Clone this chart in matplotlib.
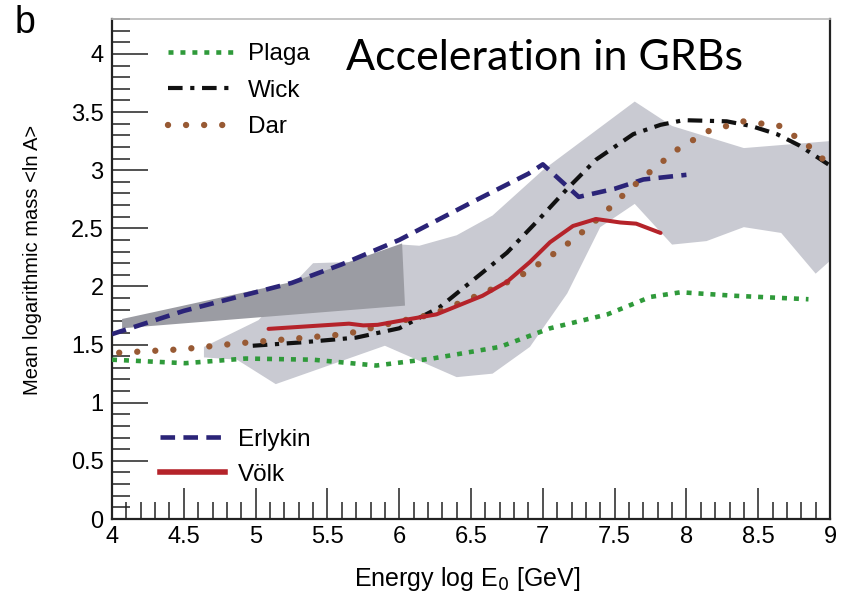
import matplotlib
matplotlib.use("Agg")
import matplotlib.pyplot as plt
from matplotlib.ticker import MultipleLocator, FixedFormatter, FixedLocator
from matplotlib.lines import Line2D

plt.rcParams["font.family"] = ["Liberation Sans", "DejaVu Sans"]
plt.rcParams["lines.scale_dashes"] = False

# ---- data: log10(E/GeV) vs <ln A> ----
band_upper_x = [4.64, 5.02, 5.40, 5.65, 6.02, 6.14, 6.40, 6.65, 7.00, 7.64, 7.90, 8.40, 9.00]
band_upper_y = [1.48, 1.71, 2.20, 2.21, 2.36, 2.35, 2.44, 2.61, 3.00, 3.59, 3.38, 3.19, 3.25]
band_lower_x = [4.64, 4.87, 5.14, 5.90, 6.40, 6.65, 6.91, 7.17, 7.40, 7.64, 7.90, 8.14, 8.40, 8.66, 8.90, 9.00]
band_lower_y = [1.39, 1.37, 1.16, 1.49, 1.22, 1.25, 1.48, 1.94, 2.51, 2.71, 2.36, 2.39, 2.51, 2.46, 2.11, 2.22]

dark_x = [4.07, 5.26, 6.02, 6.04, 4.07]
dark_y = [1.72, 2.04, 2.37, 1.835, 1.64]

erlykin_x = [4.0, 4.5, 5.0, 5.25, 5.6, 6.0, 6.5, 6.9, 7.0, 7.25, 7.5, 7.7, 8.0]
erlykin_y = [1.59, 1.79, 1.95, 2.03, 2.19, 2.40, 2.72, 2.97, 3.05, 2.77, 2.84, 2.92, 2.96]

wick_x = [4.98, 5.33, 5.70, 6.00, 6.28, 6.51, 6.75, 6.96, 7.17, 7.37, 7.63, 7.82, 7.98, 8.28, 8.45, 8.63, 8.79, 9.00]
wick_y = [1.49, 1.52, 1.56, 1.64, 1.82, 2.05, 2.29, 2.56, 2.84, 3.09, 3.31, 3.39, 3.43, 3.42, 3.38, 3.31, 3.21, 3.04]

dar_x = [4.05, 4.49, 4.87, 5.26, 5.63, 6.00, 6.23, 6.58, 6.83, 7.03, 7.22, 7.41, 7.58, 7.76, 7.95, 8.16, 8.40, 8.65, 8.84, 9.00]
dar_y = [1.43, 1.46, 1.51, 1.55, 1.59, 1.70, 1.76, 1.94, 2.08, 2.24, 2.41, 2.61, 2.81, 3.00, 3.19, 3.34, 3.42, 3.38, 3.22, 3.04]

plaga_x = [4.0, 4.51, 4.93, 5.40, 5.84, 6.23, 6.70, 7.05, 7.45, 7.75, 7.96, 8.33, 8.85]
plaga_y = [1.37, 1.34, 1.38, 1.37, 1.32, 1.38, 1.48, 1.64, 1.76, 1.91, 1.95, 1.92, 1.89]

volk_x = [5.09, 5.40, 5.65, 5.75, 5.85, 6.03, 6.26, 6.58, 6.75, 6.91, 7.05, 7.21, 7.37, 7.54, 7.65, 7.82]
volk_y = [1.635, 1.66, 1.68, 1.665, 1.67, 1.71, 1.76, 1.92, 2.04, 2.21, 2.38, 2.52, 2.58, 2.55, 2.54, 2.46]

x_ticks = [4, 4.5, 5, 5.5, 6, 6.5, 7, 7.5, 8, 8.5, 9]
x_tick_labels = ["4", "4.5", "5", "5.5", "6", "6.5", "7", "7.5", "8", "8.5", "9"]
y_ticks = [0, 0.5, 1, 1.5, 2, 2.5, 3, 3.5, 4]
y_tick_labels = ["0", "0.5", "1", "1.5", "2", "2.5", "3", "3.5", "4"]

# ---- styles ----
C_BAND = "#c9cad2"
C_DARK = "#9b9ca3"
C_ERL = "#2b2478"
C_WICK = "#111111"
C_DAR = "#985a34"
C_PLAGA = "#2f9a3a"
C_VOLK = "#b5232a"

fig = plt.figure(figsize=(8.5, 5.92), dpi=100)
ax = fig.add_axes([0.1318, 0.1233, 0.8447, 0.8446])

ax.fill(band_upper_x + band_lower_x[::-1], band_upper_y + band_lower_y[::-1],
        color=C_BAND, lw=0, zorder=1)
ax.fill(dark_x, dark_y, color=C_DARK, lw=0, zorder=2)

plaga_kw = dict(color=C_PLAGA, lw=3.3, linestyle=(0, (3.6, 5.0)), dash_capstyle="butt")
wick_kw = dict(color=C_WICK, lw=3.0, linestyle=(0, (10.5, 5.5, 3.0, 5.5)), dash_capstyle="butt")
dar_kw = dict(color=C_DAR, lw=4.6, linestyle=(0, (0.01, 13.0)), dash_capstyle="round")
erl_kw = dict(color=C_ERL, lw=3.3, linestyle=(0, (10.5, 6.0)), dash_capstyle="butt")
volk_kw = dict(color=C_VOLK, lw=2.9, linestyle="-", solid_capstyle="round")

ax.plot(plaga_x, plaga_y, zorder=3, **plaga_kw)
ax.plot(erlykin_x, erlykin_y, zorder=4, **erl_kw)
ax.plot(wick_x, wick_y, zorder=5, **wick_kw)
ax.plot(dar_x, dar_y, zorder=6, **dar_kw)
ax.plot(volk_x, volk_y, zorder=7, **volk_kw)

ax.set_xlim(4, 9)
ax.set_ylim(0, 4.3)

ax.xaxis.set_major_locator(FixedLocator(x_ticks))
ax.xaxis.set_major_formatter(FixedFormatter(x_tick_labels))
ax.xaxis.set_minor_locator(MultipleLocator(0.1))
ax.yaxis.set_major_locator(FixedLocator(y_ticks))
ax.yaxis.set_major_formatter(FixedFormatter(y_tick_labels))
ax.yaxis.set_minor_locator(MultipleLocator(0.1))

ax.tick_params(axis="x", which="major", direction="in", length=22, width=1.1,
               labelsize=17, pad=5, color="#222222")
ax.tick_params(axis="x", which="minor", direction="in", length=12, width=1.1, color="#222222")
ax.tick_params(axis="y", which="major", direction="in", length=26, width=1.1,
               labelsize=17, pad=6, color="#222222")
ax.tick_params(axis="y", which="minor", direction="in", length=13, width=1.1, color="#222222")
for side in ["left", "bottom", "right"]:
    ax.spines[side].set_linewidth(1.6)
    ax.spines[side].set_color("#222222")
ax.spines["top"].set_linewidth(1.2)
ax.spines["top"].set_color("#bbbbbb")

ax.set_xlabel("Energy log E$_0$ [GeV]", fontsize=18)
ax.xaxis.set_label_coords(0.494, -0.092)
ax.set_ylabel("Mean logarithmic mass <ln A>", fontsize=14.5)
ax.yaxis.set_label_coords(-0.098, 0.518)

# legends
top_handles = [Line2D([], [], **plaga_kw), Line2D([], [], **wick_kw), Line2D([], [], **dar_kw)]
leg1 = ax.legend(top_handles, ["Plaga", "Wick", "Dar"], loc="upper left",
                 bbox_to_anchor=(0.078, 0.952), frameon=False, fontsize=17.5,
                 handlelength=2.75, handletextpad=0.55, labelspacing=0.6,
                 borderpad=0, borderaxespad=0)
ax.add_artist(leg1)
bot_handles = [Line2D([], [], **erl_kw), Line2D([], [], color=C_VOLK, lw=4.0)]
ax.legend(bot_handles, ["Erlykin", "Völk"], loc="lower left",
          bbox_to_anchor=(0.067, 0.066), frameon=False, fontsize=17.5,
          handlelength=2.65, handletextpad=0.55, labelspacing=0.55,
          borderpad=0, borderaxespad=0)

ax.text(0.603, 0.898, "Acceleration in GRBs", transform=ax.transAxes,
        ha="center", va="baseline", fontsize=31, family=["Lato", "DejaVu Sans"],
        zorder=10)

fig.text(0.017, 0.944, "b", fontsize=27, va="baseline", ha="left")

fig.savefig("out.png", dpi=100)
